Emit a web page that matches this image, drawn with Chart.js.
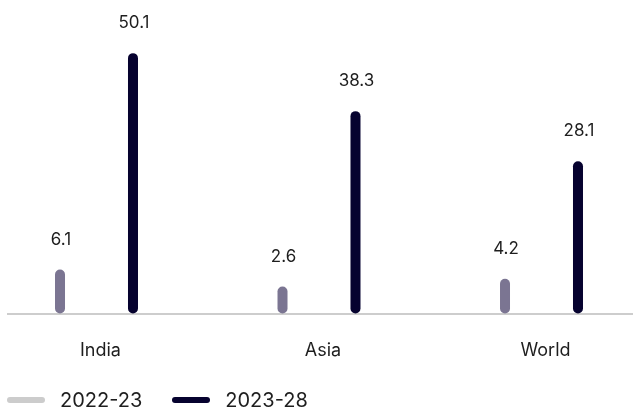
<!DOCTYPE html>
<html>
<head>
<meta charset="utf-8">
<title>India, Asia, World</title>
<script src="https://cdn.jsdelivr.net/npm/chart.js@4.4.0/dist/chart.umd.min.js"></script>
<style>
  html, body { margin: 0; padding: 0; background: #ffffff; }
  .wrap { position: relative; width: 633px; height: 410px; overflow: hidden; }
  .legend {
    position: absolute; left: 7px; top: 388px;
    display: flex; align-items: center;
    font-family: Inter, "Open Sans", sans-serif; font-size: 20px; line-height: 24px; color: #1e1e1e;
  }
  .legend .item { display: flex; align-items: center; margin-right: 30px; }
  .legend .swatch { width: 38px; height: 6px; border-radius: 3px; margin-right: 15px; }
</style>
</head>
<body>
<div class="wrap">
  <canvas id="chart" width="633" height="410"></canvas>
  <div class="legend" id="legend"></div>
</div>
<script>
// ---- Data ----
const categories = ["India", "Asia", "World"];
const seriesNames = ["2022-23", "2023-28"];
const values2022 = [6.1, 2.6, 4.2];
const values2023 = [50.1, 38.3, 28.1];

// bars start a little under the zero line in the original
const Y_MIN = -2.85;
const Y_MAX = 60;

const barColors = ["#7b7592", "#06022f"];
const legendColors = ["#cccccc", "#06022f"];

// ---- Plugins ----
const axisLine = {
  id: "axisLine",
  beforeDatasetsDraw(chart) {
    const { ctx, chartArea } = chart;
    ctx.save();
    ctx.strokeStyle = "#bdbdbd";
    ctx.lineWidth = 1.5;
    ctx.beginPath();
    ctx.moveTo(7, chartArea.bottom + 0.5);
    ctx.lineTo(chart.width, chartArea.bottom + 0.5);
    ctx.stroke();
    ctx.restore();
  },
};

const valueLabels = {
  id: "valueLabels",
  afterDatasetsDraw(chart) {
    const { ctx } = chart;
    ctx.save();
    ctx.font = "17px Inter, 'Open Sans', sans-serif";
    ctx.fillStyle = "#1e1e1e";
    ctx.textAlign = "center";
    ctx.textBaseline = "middle";
    chart.data.datasets.forEach((ds, i) => {
      const meta = chart.getDatasetMeta(i);
      meta.data.forEach((bar, j) => {
        ctx.fillText(String(ds.data[j]), bar.x + 1, bar.y - 30);
      });
    });
    ctx.restore();
  },
};

// ---- Chart ----
const ctx = document.getElementById("chart");

new Chart(ctx, {
  type: "bar",
  data: {
    labels: categories,
    datasets: [
      {
        label: seriesNames[0],
        data: values2022,
        backgroundColor: barColors[0],
        base: Y_MIN,
      },
      {
        label: seriesNames[1],
        data: values2023,
        backgroundColor: barColors[1],
        base: Y_MIN,
      },
    ],
  },
  options: {
    responsive: false,
    animation: false,
    layout: {
      padding: { left: 96.5, right: 91.5, top: 4.5, bottom: 23 },
    },
    datasets: {
      bar: {
        clip: false,
        categoryPercentage: 0.656,
        barPercentage: 0.5,
        maxBarThickness: 10,
        borderRadius: 5,
        borderSkipped: false,
      },
    },
    scales: {
      x: {
        offset: false,
        grid: { display: false, drawTicks: false },
        border: { display: false },
        ticks: {
          padding: 26,
          labelOffset: 4,
          color: "#1e1e1e",
          font: { family: "Inter, 'Open Sans', sans-serif", size: 18 },
        },
      },
      y: {
        display: false,
        min: Y_MIN,
        max: Y_MAX,
      },
    },
    plugins: {
      legend: { display: false },
      tooltip: { enabled: false },
    },
  },
  plugins: [axisLine, valueLabels],
});

// ---- Legend ----
const legend = document.getElementById("legend");
seriesNames.forEach((name, i) => {
  const item = document.createElement("div");
  item.className = "item";
  item.innerHTML = `<span class="swatch" style="background:${legendColors[i]}"></span><span>${name}</span>`;
  legend.appendChild(item);
});
</script>
</body>
</html>
